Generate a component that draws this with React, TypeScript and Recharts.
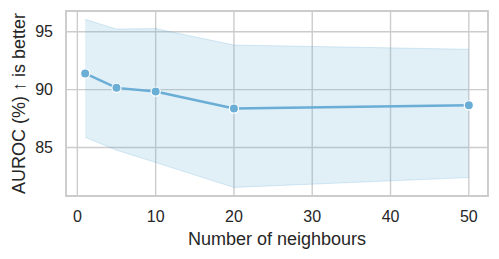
import { Area, CartesianGrid, ComposedChart, Line, ReferenceArea, XAxis, YAxis } from "recharts";

const neighbours = [1, 5, 10, 20, 50];
const aurocMean = [91.4, 90.15, 89.83, 88.36, 88.64];
const aurocLow = [85.88, 84.77, 83.7, 81.55, 82.4];
const aurocHigh = [96.07, 95.23, 95.27, 93.85, 93.48];
const xTicks = [0, 10, 20, 30, 40, 50];
const yTicks = [85, 90, 95];
const xDomain: [number, number] = [-1.45, 52.45];
const yDomain: [number, number] = [80.81, 96.79];

const COLOR = "#6aaed6";
const FONT = "'Liberation Sans', Arial, sans-serif";

const data = neighbours.map((k, i) => ({ k, mean: aurocMean[i], band: [aurocLow[i], aurocHigh[i]] }));

function YLabel({ viewBox }: any) {
  const cy = viewBox.y + viewBox.height / 2;
  const x = 25;
  return (
    <text x={x} y={cy} transform={`rotate(-90, ${x}, ${cy})`} textAnchor="middle" fontSize={18} fill="#262626" fontFamily={FONT}>
      AUROC (%) ↑ is better
    </text>
  );
}

export default function App() {
  return (
    <div style={{ position: "absolute", left: 0, top: 0, background: "#fff" }}>
      <ComposedChart width={499} height={259} data={data} margin={{ top: 11, right: 11, left: 0, bottom: 0 }}>
        <CartesianGrid stroke="#cccccc" strokeWidth={1.4} />
        <XAxis dataKey="k" type="number" domain={xDomain} ticks={xTicks} allowDataOverflow axisLine={false} tickLine={false} tickSize={0} tickMargin={15} height={63}
          tick={{ fill: "#262626", fontSize: 16, fontFamily: FONT }}
          label={{ value: "Number of neighbours", position: "insideBottom", offset: 14, fill: "#262626", fontSize: 18, fontFamily: FONT }} />
        <YAxis type="number" domain={yDomain} ticks={yTicks} allowDataOverflow axisLine={false} tickLine={false} tickSize={0} tickMargin={13} width={66}
          tick={{ fill: "#262626", fontSize: 16, fontFamily: FONT }}
          label={<YLabel />} />
        <Area dataKey="band" type="linear" fill={COLOR} fillOpacity={0.2} stroke={COLOR} strokeOpacity={0.25} strokeWidth={1} isAnimationActive={false} dot={false} activeDot={false} />
        <Line dataKey="mean" type="linear" stroke={COLOR} strokeWidth={2.5} isAnimationActive={false}
          dot={{ r: 4.6, fill: COLOR, stroke: "#ffffff", strokeWidth: 1.2 }} activeDot={false} />
        <ReferenceArea x1={xDomain[0]} x2={xDomain[1]} y1={yDomain[0]} y2={yDomain[1]} fill="none" stroke="#cccccc" strokeWidth={1.8} ifOverflow="visible" />
      </ComposedChart>
    </div>
  );
}
